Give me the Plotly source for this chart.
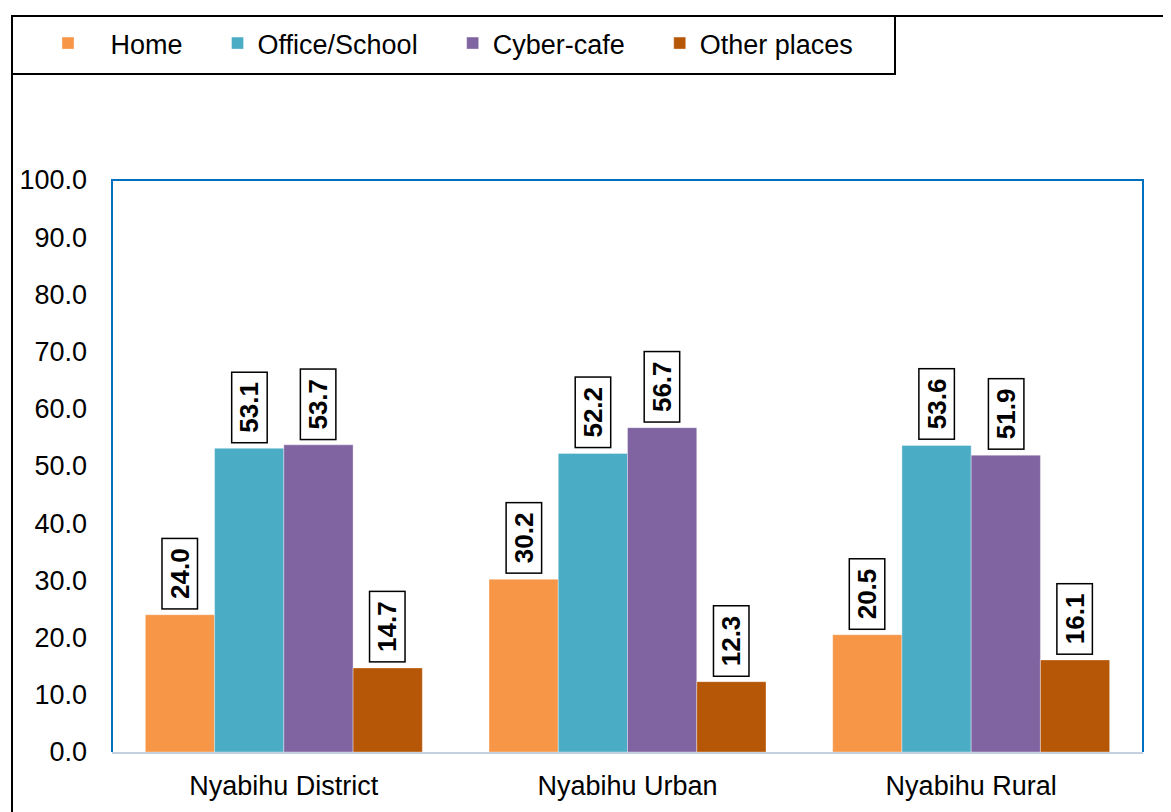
import plotly.graph_objects as go

# ---------- DATA ----------
areas = ["Nyabihu District", "Nyabihu Urban", "Nyabihu Rural"]
places = ["Home", "Office/School", "Cyber-cafe", "Other places"]
home = [24.0, 30.2, 20.5]
office_school = [53.1, 52.2, 53.6]
cyber_cafe = [53.7, 56.7, 51.9]
other_places = [14.7, 12.3, 16.1]
y_ticks = [0, 10, 20, 30, 40, 50, 60, 70, 80, 90, 100]

series = [home, office_school, cyber_cafe, other_places]
colors = ["#F79646", "#4BACC6", "#8064A2", "#B65708"]

# ---------- LAYOUT HELPERS ----------
# page body has an 8px margin, so the figure starts at (8, 8) on screen
OFF = 8
W, H = 1171 - OFF, 812 - OFF
PL, PR, PT, PB = 112, 1143, 180, 752          # plot area in screen px
ML, MR, MT, MB = PL - OFF, 1171 - PR, PT - OFF, 812 - PB
PW, PH = PR - PL, PB - PT
BARGAP = 0.194
FONT = "Liberation Sans, Arial"
NB = "\u00a0"
ZW = "\u200b"   # keeps the padding spaces from being trimmed


def px_x(p):
    return (p - PL) / PW


def px_y(p):
    return (PB - p) / PH


fig = go.Figure()
for k, (name, vals, col) in enumerate(zip(places, series, colors)):
    label = name + NB * 4 + ZW
    if k == 0:
        label = ZW + NB * 3 + label
    fig.add_trace(go.Bar(
        name=label, x=areas, y=vals,
        marker=dict(color=col, line=dict(width=0.6, color="rgba(255,255,255,0.6)")),
    ))

# boxed, rotated value labels
bw = (1 - BARGAP) / len(series)
ann = []
for k, vals in enumerate(series):
    off = (k - (len(series) - 1) / 2) * bw
    for i, v in enumerate(vals):
        ann.append(dict(
            x=i + off, y=v, xref="x", yref="y",
            text="<b>%s%s%.1f%s%s</b>" % (ZW, NB, v, NB, ZW), showarrow=False,
            textangle=-90, xanchor="center", yanchor="bottom", yshift=5,
            font=dict(family=FONT, size=26, color="black"),
            bgcolor="white", bordercolor="black", borderwidth=1.5, borderpad=2,
        ))

shapes = [
    # legend box
    dict(type="rect", xref="paper", yref="paper",
         x0=px_x(12), x1=px_x(895), y0=px_y(74), y1=px_y(16),
         line=dict(color="black", width=2)),
    # outer frame (top and left)
    dict(type="line", xref="paper", yref="paper",
         x0=px_x(895), x1=px_x(1175), y0=px_y(16), y1=px_y(16),
         line=dict(color="black", width=2)),
    dict(type="line", xref="paper", yref="paper",
         x0=px_x(12), x1=px_x(12), y0=px_y(74), y1=px_y(815),
         line=dict(color="black", width=2)),
    # plot border left/top/right
    dict(type="path", xref="paper", yref="paper",
         path="M 0 0 L 0 1 L 1 1 L 1 0",
         line=dict(color="#0070C0", width=2)),
]

fig.update_layout(
    width=W, height=H,
    margin=dict(l=ML, r=MR, t=MT, b=MB, autoexpand=False),
    paper_bgcolor="white", plot_bgcolor="white",
    barmode="group", bargap=BARGAP, bargroupgap=0,
    font=dict(family=FONT, size=27, color="black"),
    legend=dict(
        orientation="h", x=px_x(48), y=px_y(19),
        xanchor="left", yanchor="top",
        font=dict(size=27), bgcolor="rgba(0,0,0,0)", borderwidth=0,
        itemwidth=30,
    ),
    annotations=ann,
    shapes=shapes,
    showlegend=True,
)
fig.update_xaxes(
    showline=True, linecolor="#C3D1E0", linewidth=2, automargin=False,
    showgrid=False, ticks="", ticklabelstandoff=9,
    tickfont=dict(size=27),
)
fig.update_yaxes(
    range=[0, 100], tickvals=y_ticks, tickformat=".1f", automargin=False,
    showgrid=False, zeroline=False, showline=False,
    ticks="", ticklabelstandoff=24, tickfont=dict(size=27),
)

fig.write_html("out.html")
